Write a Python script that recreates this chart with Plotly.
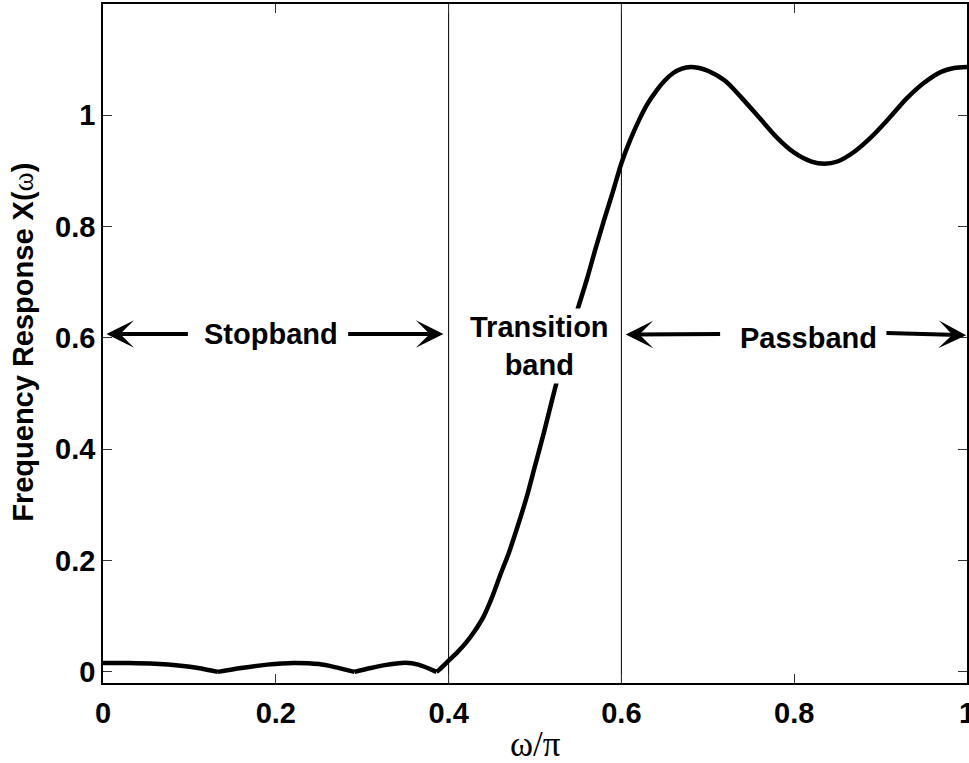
import plotly.graph_objects as go

# Frequency axis (omega/pi) and magnitude response
w = [0.000, 0.030, 0.060, 0.090, 0.110, 0.133, 0.160, 0.190, 0.220, 0.250,
     0.270, 0.291, 0.310, 0.330, 0.350, 0.365, 0.386,
     0.390, 0.400, 0.410, 0.420, 0.430, 0.440, 0.450, 0.460, 0.470, 0.480,
     0.490, 0.500, 0.510, 0.520, 0.530, 0.540, 0.550, 0.560, 0.570, 0.580,
     0.590, 0.600, 0.610, 0.620, 0.630, 0.640, 0.650, 0.660, 0.670, 0.680,
     0.690, 0.700, 0.720, 0.740, 0.760, 0.780, 0.800, 0.820, 0.835, 0.850,
     0.870, 0.890, 0.910, 0.930, 0.950, 0.970, 0.985, 1.000]
X = [0.016, 0.0158, 0.0145, 0.011, 0.007, 0.000, 0.007, 0.013, 0.016, 0.014,
     0.008, 0.000, 0.007, 0.013, 0.0165, 0.013, 0.000,
     0.005, 0.020, 0.035, 0.052, 0.073, 0.098, 0.133, 0.175, 0.215, 0.262,
     0.312, 0.370, 0.428, 0.490, 0.550, 0.605, 0.655, 0.705, 0.760, 0.812,
     0.862, 0.914, 0.955, 0.990, 1.020, 1.043, 1.062, 1.076, 1.084, 1.087,
     1.085, 1.080, 1.062, 1.030, 0.995, 0.960, 0.933, 0.917, 0.913, 0.917,
     0.935, 0.962, 0.995, 1.030, 1.058, 1.078, 1.085, 1.087]

# indices of the response zeros (sharp notches of |X|)
zero_idx = [5, 11, 16]

band_edges = [0.4, 0.6]
x_ticks = [0, 0.2, 0.4, 0.6, 0.8, 1]
x_tick_text = ["0", "0.2", "0.4", "0.6", "0.8", "1"]
y_ticks = [0, 0.2, 0.4, 0.6, 0.8, 1]
y_tick_text = ["0", "0.2", "0.4", "0.6", "0.8", "1"]

FONT = "Liberation Sans, Arial, sans-serif"

fig = go.Figure()
bounds = [0] + zero_idx + [len(w) - 1]
for a, b in zip(bounds[:-1], bounds[1:]):
    fig.add_trace(go.Scatter(x=w[a:b + 1], y=X[a:b + 1], mode="lines",
                             line=dict(color="black", width=4.5, shape="spline",
                                       smoothing=0.8),
                             showlegend=False, hoverinfo="skip"))

for e in band_edges:
    fig.add_shape(type="line", x0=e, x1=e, xref="x", y0=0, y1=1, yref="paper",
                  line=dict(color="black", width=1), layer="below")

anns = []
# arrows (tail -> tip)
arrows = [
    (0.100, 0.607, 0.004, 0.607),
    (0.282, 0.607, 0.394, 0.607),
    (0.716, 0.607, 0.605, 0.606),
    (0.905, 0.609, 0.999, 0.605),
]
for ax_, ay_, x_, y_ in arrows:
    anns.append(dict(x=x_, y=y_, ax=ax_, ay=ay_, xref="x", yref="y",
                     axref="x", ayref="y", text="", showarrow=True,
                     arrowhead=3, arrowsize=1.15, arrowwidth=4,
                     arrowcolor="black"))

label_font = dict(family=FONT, size=29, color="black")
anns.append(dict(x=0.194, y=0.607, xref="x", yref="y", text="<b>Stopband</b>",
                 showarrow=False, font=label_font))
anns.append(dict(x=0.816, y=0.600, xref="x", yref="y", text="<b>Passband</b>",
                 showarrow=False, font=label_font))
anns.append(dict(x=0.505, y=0.585, xref="x", yref="y",
                 text="<b>Transition</b><br><b>band</b>",
                 showarrow=False, font=label_font, bgcolor="white",
                 borderpad=2))

# axis titles
anns.append(dict(x=-0.093, y=0.502, xref="paper", yref="paper",
                 text="<b>Frequency Response X(</b><span style=\"font-family:'Liberation Serif'\">ω</span><b>)</b>",
                 textangle=-90, showarrow=False, xanchor="center", yanchor="middle",
                 font=dict(family=FONT, size=29, color="black")))
anns.append(dict(x=0.5, y=-0.091, xref="paper", yref="paper",
                 text="ω/π", showarrow=False, xanchor="center", yanchor="middle",
                 font=dict(family="Liberation Serif, Times New Roman, serif",
                           size=35, color="black")))

fig.update_layout(
    width=969, height=763,
    margin=dict(l=103, r=2, t=4, b=80, autoexpand=False),
    paper_bgcolor="white", plot_bgcolor="white",
    annotations=anns,
    font=dict(family=FONT, size=29, color="black"),
)
axis_common = dict(showline=True, linecolor="black", linewidth=1.5, mirror="ticks",
                   ticks="inside", ticklen=9, tickwidth=1, tickcolor="#333",
                   showgrid=False, zeroline=False, automargin=False,
                   tickfont=dict(family=FONT, size=29, color="black"))
fig.update_xaxes(range=[0, 1], tickvals=x_ticks,
                 ticktext=["<b>%s</b>" % t for t in x_tick_text],
                 ticklabelstandoff=3, ticklabeloverflow="allow", **axis_common)
fig.update_yaxes(range=[-0.02, 1.2], tickvals=y_ticks,
                 ticktext=["<b>%s</b>" % t for t in y_tick_text],
                 ticklabelstandoff=0, **axis_common)

fig.write_html("out.html")
